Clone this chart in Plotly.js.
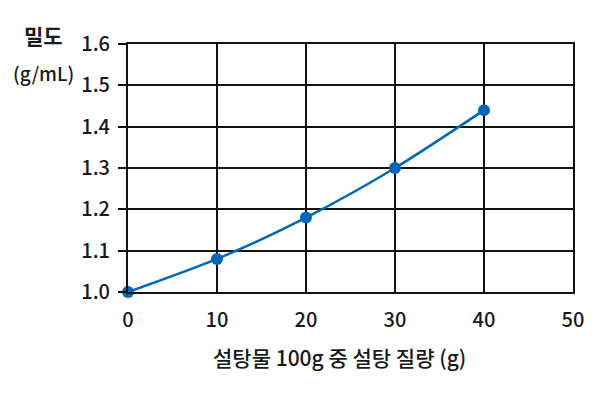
<!DOCTYPE html>
<html><head><meta charset="utf-8">
<script src="https://cdn.plot.ly/plotly-3.0.1.min.js"></script>
<style>body{margin:0;background:#fff}#c{width:600px;height:396px}</style>
</head><body><div id="c"></div>
<script>
const sugarMass = [0, 10, 20, 30, 40];
const density = [1.00, 1.08, 1.18, 1.30, 1.44];
const xTicks = [0, 10, 20, 30, 40, 50];
const yTicks = [1.0, 1.1, 1.2, 1.3, 1.4, 1.5, 1.6];
const xTitle = '설탕물 100g 중 설탕 질량 (g)';
const yTitleTop = '밀도';
const yTitleUnit = '(g/mL)';

const font = "'Noto Sans CJK KR', 'Noto Sans', sans-serif";
const trace = {
  x: sugarMass, y: density, type: 'scatter', mode: 'lines+markers',
  line: {color: '#0068b7', width: 2.5, shape: 'spline', smoothing: 0.8},
  marker: {color: '#0068b7', size: 12},
  cliponaxis: false, hoverinfo: 'skip'
};
const tf = {size: 20, family: font, weight: 500, color: '#1a1a1a'};
const layout = {
  width: 600, height: 396,
  margin: {l: 128, r: 27, t: 44, b: 104},
  paper_bgcolor: '#fff', plot_bgcolor: '#fff',
  showlegend: false,
  font: {family: font, color: '#1a1a1a', size: 18},
  xaxis: {
    range: [0, 50], tickvals: xTicks, ticktext: xTicks.map(String),
    showgrid: true, gridcolor: '#111', gridwidth: 2,
    showline: true, linecolor: '#111', linewidth: 2, mirror: true,
    zeroline: false, ticks: 'outside', ticklen: 0, tickwidth: 2, tickcolor: '#111',
    tickfont: tf, ticklabelstandoff: 9
  },
  yaxis: {
    range: [1.0, 1.6], tickvals: yTicks, ticktext: yTicks.map(v => v.toFixed(1)),
    showgrid: true, gridcolor: '#111', gridwidth: 2,
    showline: true, linecolor: '#111', linewidth: 2, mirror: true,
    zeroline: false, ticks: 'outside', ticklen: 8, tickwidth: 2, tickcolor: '#111',
    tickfont: tf, ticklabelstandoff: 4
  },
  annotations: [
    {text: yTitleTop, xref: 'paper', yref: 'paper', x: -0.191, y: 1.036,
     xanchor: 'center', yanchor: 'middle', showarrow: false,
     font: {size: 21, family: font, weight: 'bold', color: '#1a1a1a'}},
    {text: yTitleUnit, xref: 'paper', yref: 'paper', x: -0.191, y: 0.887,
     xanchor: 'center', yanchor: 'middle', showarrow: false,
     font: {size: 19, family: font, weight: 500, color: '#1a1a1a'}},
    {text: xTitle, xref: 'paper', yref: 'paper', x: 0.476, y: -0.262,
     xanchor: 'center', yanchor: 'middle', showarrow: false,
     font: {size: 21, family: font, weight: 500, color: '#1a1a1a'}}
  ]
};
Plotly.newPlot('c', [trace], layout, {staticPlot: true, displayModeBar: false});
</script></body></html>
